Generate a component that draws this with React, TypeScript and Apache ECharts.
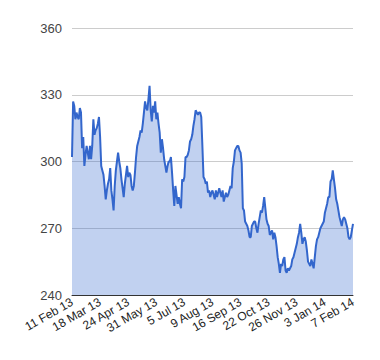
import React, { useEffect, useRef } from "react";
import * as echarts from "echarts";

const tickLabels = [
  "11 Feb 13", "18 Mar 13", "24 Apr 13", "31 May 13", "5 Jul 13", "9 Aug 13",
  "16 Sep 13", "22 Oct 13", "26 Nov 13", "3 Jan 14", "7 Feb 14",
];

const prices = [
  302, 327, 325, 319, 322, 320, 319, 324, 322, 306,
  311, 298, 303, 307, 304, 301, 307, 301, 307, 319,
  312, 314, 315, 317, 320, 311, 298, 296, 294, 289,
  283, 287, 290, 292, 297, 287, 283, 278, 289, 296,
  300, 304, 300, 297, 292, 288, 284, 290, 294, 298,
  293, 295, 294, 289, 287, 289, 295, 302, 307, 309,
  311, 314, 313, 317, 322, 327, 324, 323, 328, 334,
  323, 318, 325, 322, 327, 319, 322, 317, 313, 304,
  310, 306, 301, 298, 295, 298, 300, 300, 302, 295,
  287, 280, 289, 285, 281, 284, 281, 279, 292, 291,
  293, 302, 302, 303, 305, 309, 310, 312, 316, 319,
  323, 322, 321, 322, 322, 320, 307, 293, 292, 290,
  291, 286, 287, 284, 286, 287, 285, 283, 287, 284,
  286, 288, 286, 284, 287, 282, 284, 286, 284, 285,
  287, 289, 288, 297, 300, 305, 306, 307, 307, 305,
  304, 299, 279, 278, 273, 272, 271, 269, 266, 266,
  271, 272, 273, 273, 270, 268, 272, 275, 278, 277,
  280, 284, 279, 274, 272, 271, 267, 268, 269, 265,
  268, 266, 262, 257, 254, 250, 254, 253, 256, 257,
  251, 250, 252, 251, 252, 253, 256, 257, 259, 261,
  263, 266, 268, 272, 268, 263, 265, 266, 264, 260,
  255, 254, 253, 256, 254, 252, 257, 262, 265, 266,
  268, 270, 271, 272, 273, 277, 279, 281, 284, 284,
  291, 292, 296, 292, 288, 283, 281, 278, 275, 273,
  271, 274, 275, 274, 272, 270, 266, 265, 266, 269,
  272,
];

const LABEL_STEP = 25;
const categories = prices.map((_, i) => String(i));

export default function App() {
  const ref = useRef<HTMLDivElement>(null);

  useEffect(() => {
    document.body.style.margin = "0";
    if (!ref.current) return;
    const chart = echarts.init(ref.current, undefined, { renderer: "svg" });
    chart.setOption({
      animation: false,
      backgroundColor: "#ffffff",
      grid: { left: 72, right: 27, top: 28, bottom: 65 },
      xAxis: {
        type: "category",
        data: categories,
        boundaryGap: false,
        axisLine: { show: true, lineStyle: { color: "#333333", width: 1 } },
        axisTick: { show: false },
        splitLine: { show: false },
        axisLabel: {
          interval: LABEL_STEP - 1,
          rotate: 30,
          margin: 6,
          color: "#222222",
          fontFamily: "Arial, 'Liberation Sans', sans-serif",
          fontSize: 12,
          formatter: (_v: string, idx: number) =>
            idx % LABEL_STEP === 0 ? tickLabels[idx / LABEL_STEP] ?? "" : "",
        },
      },
      yAxis: {
        type: "value",
        min: 240,
        max: 360,
        interval: 30,
        axisLine: { show: false },
        axisTick: { show: false },
        splitLine: { show: true, lineStyle: { color: "#cccccc", width: 1 } },
        axisLabel: {
          color: "#444444",
          fontFamily: "Arial, 'Liberation Sans', sans-serif",
          fontSize: 13,
          margin: 10,
        },
      },
      series: [
        {
          type: "line",
          data: prices,
          showSymbol: false,
          symbol: "none",
          lineStyle: { color: "#3366cc", width: 2 },
          itemStyle: { color: "#3366cc" },
          areaStyle: { color: "#3366cc", opacity: 0.3 },
        },
      ],
    });
    return () => chart.dispose();
  }, []);

  return <div ref={ref} style={{ width: 380, height: 360 }} />;
}
